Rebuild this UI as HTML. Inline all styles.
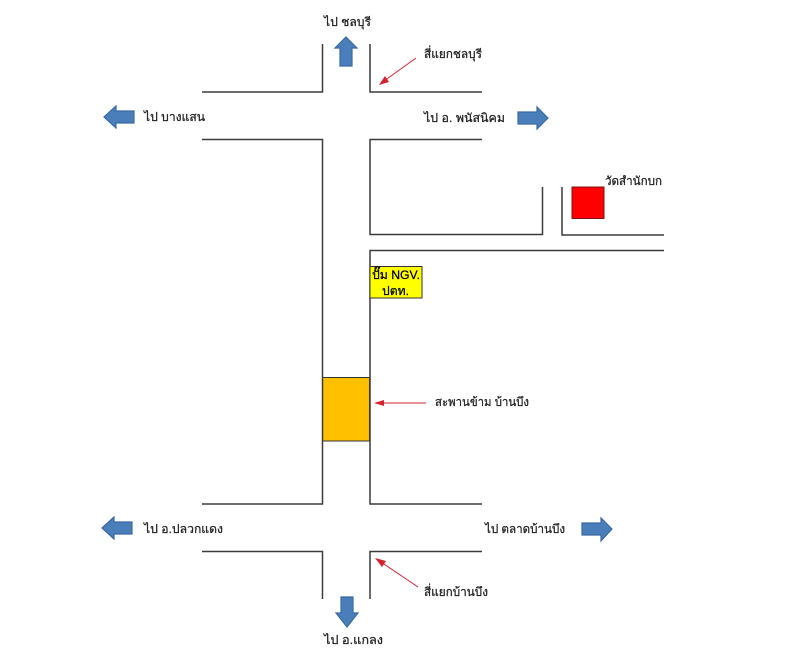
<!DOCTYPE html>
<html lang="th">
<head>
<meta charset="utf-8">
<title>แผนที่</title>
<style>
html,body{margin:0;padding:0;background:#fff;width:800px;height:658px;overflow:hidden}
svg{display:block}
text{font-family:"Liberation Sans","DejaVu Sans","Noto Sans CJK SC",sans-serif;font-size:12px;fill:#222;stroke:#222;stroke-width:.25}
.k{fill:#000;stroke:#000}
.r{fill:none;stroke:#3c3c3c;stroke-width:1.5}
.b{fill:#4a7ebb;stroke:#3a6aa3;stroke-width:1.2}
.a{stroke:#d5222f;stroke-width:1;fill:none}
.h{fill:#d5222f}
</style>
</head>
<body>
<svg width="800" height="658" viewBox="0 0 800 658" xmlns="http://www.w3.org/2000/svg">
<rect x="322.500" y="377.500" width="47" height="63.500" fill="#ffc000" stroke="#333" stroke-width="1"/>
<path class="r" d="M202 92H322.500V44"/>
<path class="r" d="M370 44V92H482"/>
<path class="r" d="M202 139.500H322.500V504H202"/>
<path class="r" d="M482 139.500H370V234.500H542.500V187"/>
<path class="r" d="M562 187V235H664"/>
<path class="r" d="M664 250.500H370V504H482"/>
<path class="r" d="M202 551.500H322.500V599"/>
<path class="r" d="M370 599V551.500H482"/>
<rect x="572" y="187" width="32" height="31.500" fill="#f00" stroke="#7a1515" stroke-width="1"/>
<rect x="370" y="266.500" width="52" height="31.500" fill="#ff0" stroke="#333" stroke-width="1"/>
<path class="b" d="M346 37L357 48H352V66H340V48H335Z"/>
<path class="b" d="M548 118L537 107V112H518V124H537V129Z"/>
<path class="b" d="M104 117L116 106V111H134V123H116V128Z"/>
<path class="b" d="M102 528L114 517V522H132V534H114V539Z"/>
<path class="b" d="M612 529L601 518V523H582V535H601V541Z"/>
<path class="b" d="M347 627L336 613H341V597H353V613H358Z"/>
<path class="a" d="M416 58L384 81"/><path class="h" d="M379 85L385 76L389 82Z"/>
<path class="a" d="M426 403H380"/><path class="h" d="M374 403L384 400V406Z"/>
<path class="a" d="M418 587L381 562"/><path class="h" d="M375 558L386 561L382 567Z"/>
<text x="324" y="26" textLength="47" lengthAdjust="spacingAndGlyphs">ไป ชลบุรี</text>
<text x="424" y="58" textLength="58" lengthAdjust="spacingAndGlyphs">สี่แยกชลบุรี</text>
<text x="144" y="121" textLength="61" lengthAdjust="spacingAndGlyphs">ไป บางแสน</text>
<text x="424" y="122" textLength="81" lengthAdjust="spacingAndGlyphs">ไป อ. พนัสนิคม</text>
<text x="605" y="185" textLength="57" lengthAdjust="spacingAndGlyphs">วัดสำนักบก</text>
<text class="k" x="372" y="279" textLength="48" lengthAdjust="spacingAndGlyphs">ปั๊ม NGV.</text>
<text class="k" x="382" y="295" textLength="27" lengthAdjust="spacingAndGlyphs">ปตท.</text>
<text x="435" y="406" textLength="94" lengthAdjust="spacingAndGlyphs">สะพานข้าม บ้านบึง</text>
<text x="144" y="533" textLength="79" lengthAdjust="spacingAndGlyphs">ไป อ.ปลวกแดง</text>
<text x="485" y="533" textLength="80" lengthAdjust="spacingAndGlyphs">ไป ตลาดบ้านบึง</text>
<text x="424" y="596" textLength="64" lengthAdjust="spacingAndGlyphs">สี่แยกบ้านบึง</text>
<text x="324" y="644" textLength="59" lengthAdjust="spacingAndGlyphs">ไป อ.แกลง</text>
</svg>
</body>
</html>
